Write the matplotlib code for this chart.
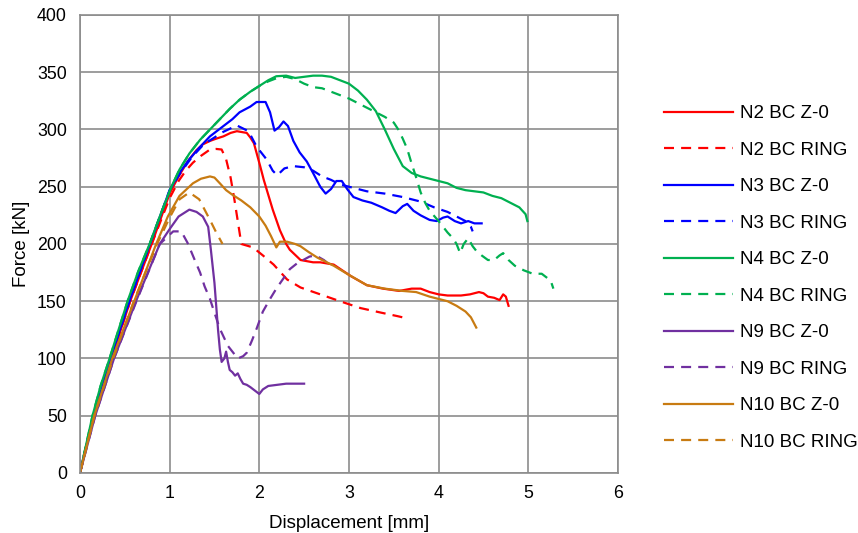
import numpy as np
import matplotlib
matplotlib.use('Agg')
from matplotlib import pyplot as plt

plt.rcParams['font.family'] = ['Liberation Sans', 'DejaVu Sans']

# N2 BC Z-0
n2_z_x = [0, 0.15, 0.35, 0.56, 0.8, 1.0, 1.1, 1.2, 1.3, 1.37, 1.45, 1.52, 1.6, 1.68, 1.75, 1.86, 1.9, 1.94,
          2.01, 2.05, 2.1, 2.15, 2.23, 2.3, 2.34, 2.46, 2.6, 2.68, 2.83, 3.02, 3.2, 3.38, 3.56, 3.7, 3.8, 3.9,
          4.0, 4.1, 4.25, 4.35, 4.45, 4.5, 4.55, 4.62, 4.68, 4.72, 4.75, 4.78]
n2_z_y = [0, 50, 100, 150, 200, 244, 259, 272, 282, 287, 290, 292, 294, 297, 298.5, 297, 293, 288,
          268, 256, 243, 230, 212, 200, 195, 186, 184, 184, 182, 172, 164, 161, 159, 161, 161, 158,
          156, 155, 155, 156, 158, 157, 154, 153, 151, 156, 154, 146]

# N2 BC RING
n2_r_x = [0, 0.15, 0.35, 0.56, 0.8, 1.0, 1.1, 1.18, 1.26, 1.35, 1.45, 1.52, 1.58, 1.63, 1.68, 1.72, 1.76,
          1.8, 1.93, 2.04, 2.16, 2.31, 2.46, 2.68, 2.9, 3.13, 3.36, 3.54, 3.65]
n2_r_y = [0, 50, 100, 150, 200, 240, 255, 264, 271, 277, 282.5, 283, 282.5, 274, 258, 240, 220,
          200, 197, 190, 182, 169, 162, 156, 150, 144, 140, 137, 135]

# N3 BC Z-0
n3_z_x = [0, 0.15, 0.34, 0.55, 0.78, 1.0, 1.1, 1.22, 1.33, 1.45, 1.6, 1.7, 1.78, 1.9, 1.97,
          2.07, 2.12, 2.17, 2.22, 2.27, 2.32, 2.38, 2.45, 2.53, 2.6, 2.68, 2.74, 2.8, 2.86, 2.92,
          2.98, 3.05, 3.15, 3.25, 3.37, 3.45, 3.52, 3.6, 3.65, 3.72, 3.8, 3.9, 3.98, 4.05, 4.1, 4.18,
          4.25, 4.33, 4.4, 4.48]
n3_z_y = [0, 50, 100, 150, 200, 247, 261, 274, 284, 294, 303, 309, 315, 320, 324,
          324, 315, 299, 302, 307, 303, 290, 280, 272, 262, 250, 244, 248, 255, 255,
          248, 241, 238, 236, 232, 229, 227, 233, 235, 229, 225, 221, 220, 223, 224, 220,
          218, 220, 218, 218]

# N3 BC RING
n3_r_x = [0, 0.15, 0.34, 0.55, 0.78, 1.0, 1.12, 1.25, 1.38, 1.5, 1.6, 1.75, 1.88, 1.97, 2.08,
          2.15, 2.2, 2.28, 2.38, 2.5, 2.6, 2.7, 2.8, 2.9, 3.0, 3.2, 3.4, 3.6, 3.8, 3.95, 4.1, 4.2,
          4.3, 4.36, 4.38]
n3_r_y = [0, 50, 100, 150, 200, 247, 262, 276, 287, 293, 298, 303.5, 298.5, 285, 274,
          264, 260, 266, 268, 267, 264, 259, 256, 252, 250, 246, 244, 241, 237, 232, 228, 224,
          220, 215, 211]

# N4 BC Z-0
n4_z_x = [0, 0.05, 0.14, 0.23, 0.33, 0.43, 0.535, 0.65, 0.777, 0.9, 1.02, 1.11, 1.22, 1.34, 1.45,
          1.56, 1.67, 1.78, 1.9, 2.0, 2.1, 2.19, 2.3, 2.4, 2.5, 2.6, 2.7, 2.8, 2.9, 3.0, 3.1, 3.2, 3.3,
          3.4, 3.5, 3.6, 3.7, 3.8, 3.9, 4.0, 4.1, 4.2, 4.3, 4.4, 4.5, 4.6, 4.7, 4.8, 4.9, 4.97, 4.99]
n4_z_y = [0, 18, 50, 76, 100, 125, 151, 176, 200, 226, 250, 265, 279, 291, 300,
          309, 318, 326, 333, 338, 343, 346.5, 347, 345, 346, 347, 347, 346, 343, 340, 334, 326, 316,
          300, 283, 268, 262, 259, 257, 255, 253, 249, 247, 246, 245, 242, 240, 236, 232, 226, 220]

# N4 BC RING
n4_r_x = [0, 0.05, 0.14, 0.23, 0.33, 0.43, 0.535, 0.65, 0.777, 0.9, 1.02, 1.11, 1.22, 1.34, 1.45,
          1.56, 1.67, 1.78, 1.9, 2.0, 2.1, 2.2, 2.3, 2.4, 2.5, 2.6, 2.7, 2.8, 2.9, 3.0, 3.1, 3.2, 3.3,
          3.4, 3.5, 3.55, 3.6, 3.65, 3.7, 3.75, 3.8, 3.85, 3.9, 4.0, 4.1, 4.16, 4.2, 4.24, 4.28,
          4.33, 4.38, 4.42, 4.48, 4.55, 4.62, 4.68, 4.72, 4.78, 4.85, 4.95, 5.05, 5.15, 5.2, 5.25, 5.28]
n4_r_y = [0, 18, 50, 76, 100, 125, 151, 176, 200, 226, 250, 265, 279, 291, 300,
          309, 318, 326, 333, 338, 342, 345, 346, 344, 340, 337, 336, 333, 330, 327, 323, 319, 315,
          311, 306, 300, 292, 283, 270, 258, 245, 236, 229, 220, 210, 205, 200, 192, 200,
          205, 198, 194, 190, 186, 186, 190, 192, 186, 181, 177, 174, 174, 171, 168, 161]

# N9 BC Z-0
n9_z_x = [0, 0.17, 0.38, 0.63, 0.89, 1.0, 1.1, 1.22, 1.3, 1.37, 1.43, 1.46, 1.5, 1.54,
          1.56, 1.58, 1.61, 1.63, 1.65, 1.67, 1.7, 1.73, 1.76, 1.79, 1.82, 1.86, 1.9, 1.95, 2.0,
          2.04, 2.1, 2.2, 2.3, 2.5]
n9_z_y = [0, 50, 100, 151, 200, 213, 224, 230, 228, 224, 215, 195, 166, 125,
          108, 97, 100, 106, 97, 90, 88, 85, 87, 82, 78, 77, 75, 72, 69,
          73, 76, 77, 78, 78]

# N9 BC RING
n9_r_x = [0, 0.17, 0.38, 0.63, 0.89, 1.04, 1.13, 1.2, 1.28, 1.34, 1.39, 1.45, 1.5,
          1.56, 1.65, 1.76, 1.82, 1.86, 1.92, 1.97, 2.04, 2.12, 2.19, 2.27, 2.34, 2.42, 2.49, 2.56,
          2.63, 2.72, 2.8]
n9_r_y = [0, 50, 100, 150, 200, 211, 211, 201, 186, 175, 163, 152, 140,
          126, 111, 100, 102, 105, 116, 126, 141, 152, 161, 170, 178, 183, 186, 189,
          190, 186, 181]

# N10 BC Z-0
n10_z_x = [0, 0.16, 0.36, 0.61, 0.85, 0.98, 1.11, 1.26, 1.35, 1.45, 1.5, 1.56, 1.63, 1.7, 1.8, 1.9,
           2.0, 2.07, 2.13, 2.19, 2.23, 2.31, 2.4, 2.46, 2.55, 2.65, 2.83, 3.0, 3.2, 3.4, 3.6, 3.75,
           3.9, 4.0, 4.1, 4.2, 4.3, 4.36, 4.4, 4.42]
n10_z_y = [0, 50, 100, 151, 200, 224, 242, 253, 257, 259, 258, 253, 247, 243, 238, 232,
           224, 216, 207, 197, 202, 202, 200, 198, 193, 188, 181, 173, 164, 161, 159, 158,
           154, 152, 150, 146, 141, 136, 130, 127]

# N10 BC RING
n10_r_x = [0, 0.16, 0.37, 0.6, 0.86, 1.0, 1.11, 1.22, 1.33, 1.45, 1.52, 1.59]
n10_r_y = [0, 50, 100, 150, 200, 223, 239, 245, 239, 221, 210, 200]

labels = ['N2 BC Z-0', 'N2 BC RING', 'N3 BC Z-0', 'N3 BC RING', 'N4 BC Z-0',
          'N4 BC RING', 'N9 BC Z-0', 'N9 BC RING', 'N10 BC Z-0', 'N10 BC RING']
series = [(n2_z_x, n2_z_y), (n2_r_x, n2_r_y), (n3_z_x, n3_z_y), (n3_r_x, n3_r_y),
          (n4_z_x, n4_z_y), (n4_r_x, n4_r_y), (n9_z_x, n9_z_y), (n9_r_x, n9_r_y),
          (n10_z_x, n10_z_y), (n10_r_x, n10_r_y)]
colors = ['#FF0000', '#0000FF', '#00B050', '#7030A0', '#C87B12']

fig = plt.figure(figsize=(8.58, 5.33), dpi=100)
ax = fig.add_axes([0.0932, 0.1126, 0.627, 0.8593])

for i, (xs, ys) in enumerate(series):
    c = colors[i // 2]
    if i % 2 == 0:
        ax.plot(xs, ys, color=c, lw=1.6, label=labels[i])
    else:
        ax.plot(xs, ys, color=c, lw=1.6, linestyle=(0, (4.5, 3.2)), label=labels[i])

ax.set_xlim(0, 6)
ax.set_ylim(0, 400)
ax.set_xticks(np.arange(0, 7, 1))
ax.set_yticks(np.arange(0, 401, 50))
ax.grid(True, color='#8c8c8c', lw=1.2)
ax.set_axisbelow(True)
for s in ax.spines.values():
    s.set_color('#8c8c8c')
    s.set_linewidth(1.2)
ax.tick_params(length=0, labelsize=12.8, colors='#000000')
ax.tick_params(axis='x', pad=9)
ax.tick_params(axis='y', pad=9.5)
ax.set_xlabel('Displacement [mm]', fontsize=13.5, labelpad=9)
ax.set_ylabel('Force [kN]', fontsize=13.5, labelpad=5)

fig.legend(loc='upper left', bbox_to_anchor=(0.765, 0.817), frameon=False,
           fontsize=13.5, handlelength=3.7, handletextpad=0.37, labelspacing=1.035,
           borderaxespad=0)

fig.savefig('out.png', dpi=100)
